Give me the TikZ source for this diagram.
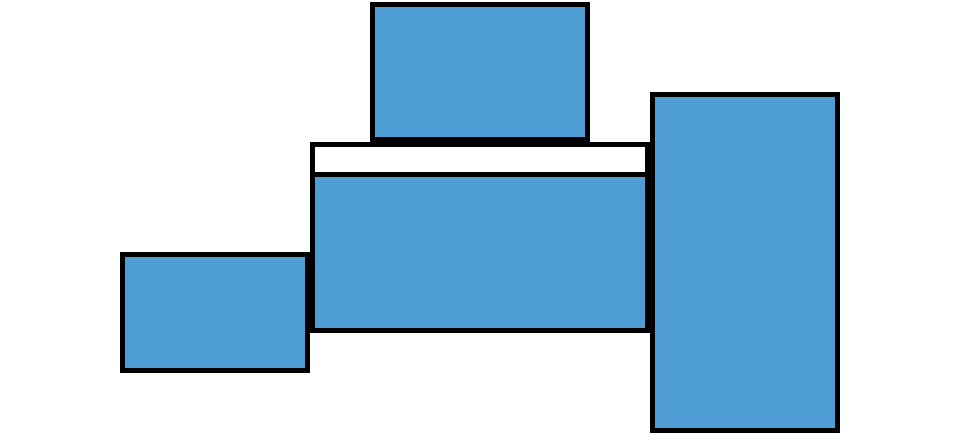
\documentclass[tikz,border=0pt]{standalone}
\begin{document}
\begin{tikzpicture}[x=1pt,y=-1pt,
  box/.style={draw=black,line width=5pt,fill=boxblue,rectangle,inner sep=0pt,outer sep=0pt,anchor=north west},
  strip/.style={box,fill=white}]
\definecolor{boxblue}{RGB}{78,157,212}
\useasboundingbox (0,0) rectangle (960,435);
\node[box,minimum width=215pt,minimum height=135pt] (top) at (372.5,5) {};
\node[strip,minimum width=335pt,minimum height=30pt] (stripm) at (312.5,145) {};
\node[box,minimum width=335pt,minimum height=155pt] (mid) at (312.5,175) {};
\node[box,minimum width=185pt,minimum height=115pt] (left) at (122.5,255) {};
\node[box,minimum width=185pt,minimum height=335pt] (right) at (652.5,95) {};
\end{tikzpicture}
\end{document}
